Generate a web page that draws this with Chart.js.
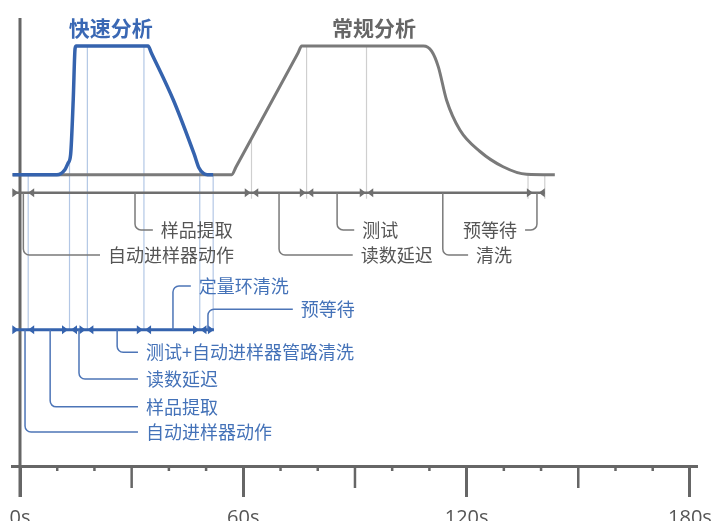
<!DOCTYPE html>
<html>
<head>
<meta charset="utf-8">
<script src="https://cdn.jsdelivr.net/npm/chart.js@4.4.1/dist/chart.umd.min.js"></script>
<style>
    html, body { margin: 0; padding: 0; background: #fff; }
    #wrap { width: 712px; height: 521px; position: relative; }
</style>
</head>
<body>
<div id="wrap"><canvas id="chartSaya"></canvas></div>
<script>
"use strict";

// time axis (seconds)
const tickValues = [0, 10, 20, 30, 40, 50, 60, 70, 80, 90, 100, 110, 120, 130, 140, 150, 160, 170, 180];
const labelTicks = [0, 60, 120, 180];
const tickLabels = ["0s", "60s", "120s", "180s"];

// signal curves: time (s) / level
const fastTime = [-2, 9.9, 12.1, 12.9, 13.6, 14.3, 14.8, 15.1, 34.4, 35.3, 41.2, 46.8, 48.1, 49.3, 50.4, 51.9];
const fastLevel = [65, 65, 66.2, 67.6, 69.5, 81.7, 93.2, 93.75, 93.75, 92.2, 81.7, 69.6, 66.5, 65.3, 65, 65];

const normalTime = [-2, 56.9, 58.0, 74.7, 75.7, 108.4, 110.6, 112.4, 114.6, 118.2, 123.6, 129.8, 136.1, 143.7];
const normalLevel = [65, 65, 66.7, 92.2, 93.75, 93.75, 92.6, 89.1, 81.7, 75.0, 70.2, 66.8, 65.1, 65];

// timelines (level), extents and arrow tips (s)
const normalLine = 61;
const normalSpan = [-1.6, 141];
const normalArrowRight = [-0.45, 62.0, 76.8, 92.9, 137.8];
const normalArrowLeft = [2.2, 62.4, 77.2, 93.3, 139.4];

const fastLine = 30.4;
const fastSpan = [-1.6, 52.1];
const fastArrowRight = [-0.45, 12.9, 17.6, 33.0, 48.1, 52.1];
const fastArrowLeft = [2.2, 13.7, 18.1, 33.6, 48.5];

// guide lines from curve to timeline
const normalGuideTime = [62.2, 77.0, 93.1, 136.5, 141];
const normalGuideTop = [73.1, 93.75, 93.75, 65, 65];
const fastGuideTime = [2.2, 13.3, 18.1, 33.3, 48.3, 51.9];
const fastGuideTop = [65, 68, 93.75, 93.75, 65.8, 65];

// phase labels
const normalPhases = ["样品提取", "自动进样器动作", "读数延迟", "测试", "清洗", "预等待"];
const normalStemTime = [30.9, 0.9, 69.6, 85.2, 113.6, 138.9];
const normalLabelRow = [52.7, 47.1, 47.1, 52.7, 47.1, 52.7];
const normalLeaderEnd = [35.7, 21.5, 89.4, 89.8, 120.4, 135.7];

const fastPhases = ["定量环清洗", "预等待", "测试+自动进样器管路清洗", "读数延迟", "样品提取", "自动进样器动作"];
const fastStemTime = [41.1, 50.5, 26.1, 15.85, 8.1, 1.35];
const fastLabelRow = [40.2, 35.0, 25.4, 19.4, 13.2, 7.6];
const fastLeaderEnd = [45.9, 73.3, 31.7, 31.7, 31.7, 31.7];

const titles = ["快速分析", "常规分析"];
const titleTime = [24.4, 95.1];
const titleLevel = 97.8;

const BLUE = "#3563ae";
const BLUE_TEXT = "#4472b8";
const GRAY = "#7a7a7a";
const GRAY_TEXT = "#555555";
const AXIS = "#666666";
const CJK = "'Noto Sans CJK SC', 'Noto Sans', sans-serif";

function toPoints(xs, ys) {
    return xs.map((t, i) => ({ x: t, y: ys[i] }));
}

const diagramPlugin = {
    id: "diagram",
    beforeDatasetsDraw(chart) {
        const { ctx, scales } = chart;
        const px = (t) => scales.x.getPixelForValue(t);
        const py = (v) => scales.y.getPixelForValue(v);
        const base = py(0);

        ctx.save();

        // vertical axis at 0s
        ctx.strokeStyle = AXIS;
        ctx.lineWidth = 3;
        ctx.beginPath();
        ctx.moveTo(px(0), py(100));
        ctx.lineTo(px(0), base + 31);
        ctx.stroke();

        // shorter ticks
        ctx.lineWidth = 2.5;
        tickValues.forEach((v) => {
            if (v % 60 === 0) return;
            const len = v % 30 === 0 ? 22 : 5;
            ctx.beginPath();
            ctx.moveTo(px(v), base);
            ctx.lineTo(px(v), base + len);
            ctx.stroke();
        });

        // tick labels
        ctx.fillStyle = GRAY_TEXT;
        ctx.font = "20px 'Open Sans', sans-serif";
        ctx.textAlign = "center";
        ctx.textBaseline = "alphabetic";
        labelTicks.forEach((v, i) => {
            ctx.fillText(tickLabels[i], px(v), base + 58);
        });

        // guide lines
        ctx.lineWidth = 1.2;
        ctx.strokeStyle = "#cfcfcf";
        normalGuideTime.forEach((t, i) => {
            ctx.beginPath();
            ctx.moveTo(px(t), py(normalGuideTop[i]));
            ctx.lineTo(px(t), py(normalLine) + 6);
            ctx.stroke();
        });
        ctx.strokeStyle = "#b3c7e5";
        fastGuideTime.forEach((t, i) => {
            ctx.beginPath();
            ctx.moveTo(px(t), py(fastGuideTop[i]));
            ctx.lineTo(px(t), py(fastLine));
            ctx.stroke();
        });

        drawTimeline(ctx, px, py, normalLine, normalSpan, normalArrowRight, normalArrowLeft, "#6f6f6f", 2.5);
        drawTimeline(ctx, px, py, fastLine, fastSpan, fastArrowRight, fastArrowLeft, BLUE, 3);

        drawLeaders(ctx, px, py, normalLine, normalPhases, normalStemTime, normalLabelRow, normalLeaderEnd, "#7a7a7a", GRAY_TEXT);
        drawLeaders(ctx, px, py, fastLine, fastPhases, fastStemTime, fastLabelRow, fastLeaderEnd, "#4d75b7", BLUE_TEXT);

        // titles
        ctx.font = "bold 21px " + CJK;
        ctx.textAlign = "center";
        ctx.textBaseline = "middle";
        ctx.fillStyle = "#3a68b4";
        ctx.fillText(titles[0], px(titleTime[0]), py(titleLevel));
        ctx.fillStyle = "#666666";
        ctx.fillText(titles[1], px(titleTime[1]), py(titleLevel));

        ctx.restore();
    },
};

function drawTimeline(ctx, px, py, level, span, rights, lefts, color, width) {
    const y = py(level);
    ctx.strokeStyle = color;
    ctx.fillStyle = color;
    ctx.lineWidth = width;
    ctx.beginPath();
    ctx.moveTo(px(span[0]), y);
    ctx.lineTo(px(span[1]), y);
    ctx.stroke();
    rights.forEach((t) => {
        const x = px(t);
        ctx.beginPath();
        ctx.moveTo(x, y);
        ctx.lineTo(x - 6, y - 4.5);
        ctx.lineTo(x - 6, y + 4.5);
        ctx.closePath();
        ctx.fill();
    });
    lefts.forEach((t) => {
        const x = px(t);
        ctx.beginPath();
        ctx.moveTo(x, y);
        ctx.lineTo(x + 6, y - 4.5);
        ctx.lineTo(x + 6, y + 4.5);
        ctx.closePath();
        ctx.fill();
    });
}

function drawLeaders(ctx, px, py, level, names, stems, rows, ends, lineColor, textColor) {
    ctx.font = "18px " + CJK;
    ctx.textBaseline = "middle";
    names.forEach((name, i) => {
        const sx = px(stems[i]);
        const ry = py(rows[i]);
        const ex = px(ends[i]);
        ctx.strokeStyle = lineColor;
        ctx.lineWidth = 1.5;
        ctx.beginPath();
        ctx.moveTo(sx, py(level));
        ctx.arcTo(sx, ry, ex, ry, 6);
        ctx.lineTo(ex, ry);
        ctx.stroke();
        ctx.fillStyle = textColor;
        if (ex >= sx) {
            ctx.textAlign = "left";
            ctx.fillText(name, ex + 8, ry);
        } else {
            ctx.textAlign = "right";
            ctx.fillText(name, ex - 8, ry);
        }
    });
}

const ctxChart = document.getElementById("chartSaya").getContext("2d");
const chartSaya = new Chart(ctxChart, {
    type: "line",
    data: {
        datasets: [
            {
                label: titles[0],
                data: toPoints(fastTime, fastLevel),
                borderColor: BLUE,
                borderWidth: 3.5,
                pointRadius: 0,
                fill: false,
                cubicInterpolationMode: "monotone",
            },
            {
                label: titles[1],
                data: toPoints(normalTime, normalLevel),
                borderColor: GRAY,
                borderWidth: 3,
                pointRadius: 0,
                fill: false,
                cubicInterpolationMode: "monotone",
            },
        ],
    },
    options: {
        responsive: true,
        maintainAspectRatio: false,
        animation: false,
        layout: { padding: { left: 12, right: 15, top: 18, bottom: 0 } },
        scales: {
            x: {
                type: "linear",
                min: -2.15,
                max: 181.9,
                afterBuildTicks: (scale) => {
                    scale.ticks = tickValues.map((v) => ({ value: v }));
                },
                afterFit: (scale) => {
                    scale.height = 55;
                },
                border: { display: true, color: AXIS, width: 3 },
                grid: {
                    drawOnChartArea: false,
                    drawTicks: true,
                    tickLength: 31,
                    tickWidth: 3,
                    tickColor: (c) => (c.tick && c.tick.value % 60 === 0 ? AXIS : "rgba(0,0,0,0)"),
                },
                ticks: { display: false },
            },
            y: {
                display: false,
                min: 0,
                max: 100,
            },
        },
        plugins: {
            legend: { display: false },
            tooltip: { enabled: false },
        },
    },
    plugins: [diagramPlugin],
});
</script>
</body>
</html>
